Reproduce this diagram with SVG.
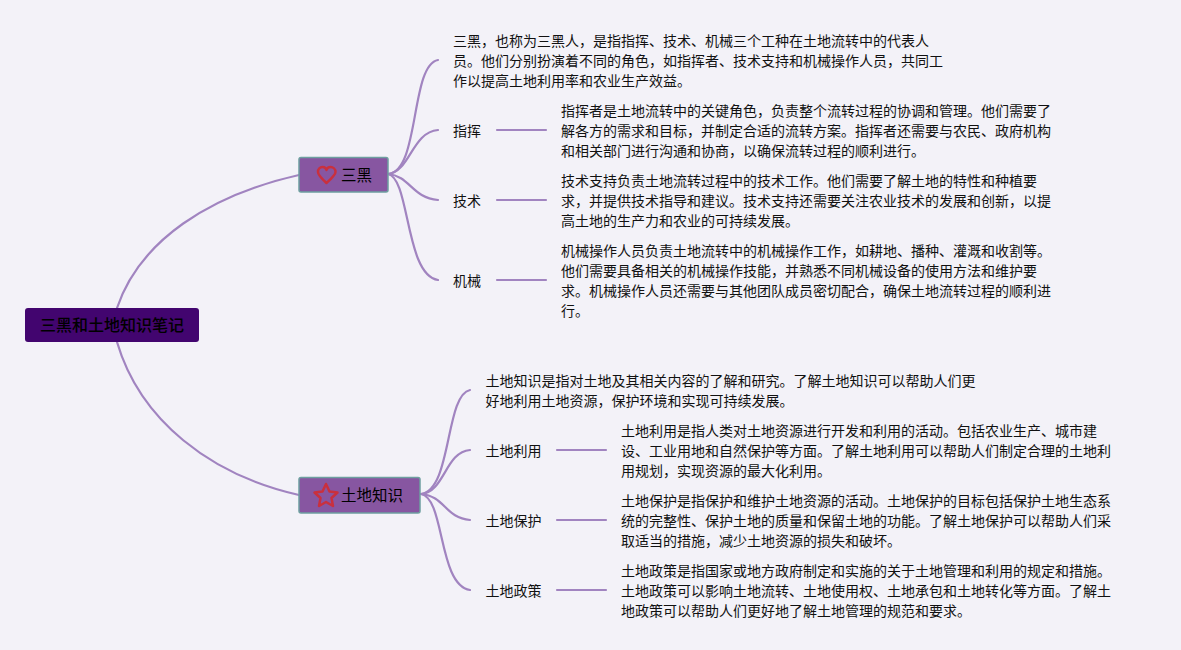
<svg xmlns="http://www.w3.org/2000/svg" width="1181" height="650" viewBox="0 0 1181 650">
<style>
text{font-family:"Noto Sans CJK SC","Noto Sans",sans-serif;font-size:14px;fill:#111}
.c{fill:none;stroke:#a184c0;stroke-width:2.200;stroke-linecap:round}
.sub{fill:#8756a1;stroke:#6e9fa0;stroke-width:1.500}
.ic{fill:none;stroke:#c9303e;stroke-width:2.500;stroke-linejoin:round}
.m{font-size:15.500px;fill:#000}
</style>
<rect width="1181" height="650" fill="#f3f2f8"/>
<g id="connectors">
<path class="c" d="M117 308C140 240 210 195 299 175"/>
<path class="c" d="M117 342C140 420 210 475 299 495"/>
<path class="c" d="M388 174C420 172 410 65 438 60"/>
<path class="c" d="M388 174C410 172 412 132 438 130"/>
<path class="c" d="M388 174C410 176 412 198 438 200"/>
<path class="c" d="M388 174C410 178 405 275 438 280"/>
<path class="c" d="M421 494C452 490 445 395 470 390"/>
<path class="c" d="M421 494C445 492 445 452 470 450"/>
<path class="c" d="M421 494C445 496 445 518 470 520"/>
<path class="c" d="M421 494C445 498 438 585 470 590"/>
<path class="c" d="M497 130H546"/>
<path class="c" d="M497 200H546"/>
<path class="c" d="M497 280H546"/>
<path class="c" d="M557 450H606"/>
<path class="c" d="M557 520H606"/>
<path class="c" d="M557 590H606"/>
</g>
<g id="root"><rect x="25" y="308" width="174" height="34" rx="3" fill="#42056f"/><text x="112" y="331" text-anchor="middle" style="font-size:16px;fill:#000;font-weight:500">三黑和土地知识笔记</text></g>
<g id="sanhei"><rect class="sub" x="299" y="157.500" width="89" height="34.500" rx="2"/><path class="ic" d="M326.500 183C321 178 318 175 318 172C318 169 320 167 322.500 167C324.500 167 326 168 326.500 170C327 168 328.500 167 330.500 167C333 167 335.500 169 335.500 172C335.500 175 332 178 326.500 183Z"/><text class="m" x="341" y="181">三黑</text></g>
<g id="tudi"><rect class="sub" x="299" y="477.500" width="121" height="35.500" rx="2"/><path class="ic" d="M326 484L329.500 491.500L337.500 492.500L331.500 498L333 506L326 502L319 506L320.500 498L314.500 492.500L322.500 491.500Z"/><text class="m" x="341" y="501">土地知识</text></g>
<g id="n1"><text x="453" y="46">三黑，也称为三黑人，是指指挥、技术、机械三个工种在土地流转中的代表人</text><text x="453" y="66">员。他们分别扮演着不同的角色，如指挥者、技术支持和机械操作人员，共同工</text><text x="453" y="86">作以提高土地利用率和农业生产效益。</text></g>
<g id="n2"><text x="453" y="136">指挥</text></g>
<g id="n2d"><text x="561" y="116">指挥者是土地流转中的关键角色，负责整个流转过程的协调和管理。他们需要了</text><text x="561" y="136">解各方的需求和目标，并制定合适的流转方案。指挥者还需要与农民、政府机构</text><text x="561" y="156">和相关部门进行沟通和协商，以确保流转过程的顺利进行。</text></g>
<g id="n3"><text x="453" y="206">技术</text></g>
<g id="n3d"><text x="561" y="186">技术支持负责土地流转过程中的技术工作。他们需要了解土地的特性和种植要</text><text x="561" y="206">求，并提供技术指导和建议。技术支持还需要关注农业技术的发展和创新，以提</text><text x="561" y="226">高土地的生产力和农业的可持续发展。</text></g>
<g id="n4"><text x="453" y="286">机械</text></g>
<g id="n4d"><text x="561" y="256">机械操作人员负责土地流转中的机械操作工作，如耕地、播种、灌溉和收割等。</text><text x="561" y="276">他们需要具备相关的机械操作技能，并熟悉不同机械设备的使用方法和维护要</text><text x="561" y="296">求。机械操作人员还需要与其他团队成员密切配合，确保土地流转过程的顺利进</text><text x="561" y="316">行。</text></g>
<g id="n5"><text x="485.500" y="386">土地知识是指对土地及其相关内容的了解和研究。了解土地知识可以帮助人们更</text><text x="485.500" y="406">好地利用土地资源，保护环境和实现可持续发展。</text></g>
<g id="n6"><text x="485.500" y="456">土地利用</text></g>
<g id="n6d"><text x="621" y="436">土地利用是指人类对土地资源进行开发和利用的活动。包括农业生产、城市建</text><text x="621" y="456">设、工业用地和自然保护等方面。了解土地利用可以帮助人们制定合理的土地利</text><text x="621" y="476">用规划，实现资源的最大化利用。</text></g>
<g id="n7"><text x="485.500" y="526">土地保护</text></g>
<g id="n7d"><text x="621" y="506">土地保护是指保护和维护土地资源的活动。土地保护的目标包括保护土地生态系</text><text x="621" y="526">统的完整性、保护土地的质量和保留土地的功能。了解土地保护可以帮助人们采</text><text x="621" y="546">取适当的措施，减少土地资源的损失和破坏。</text></g>
<g id="n8"><text x="485.500" y="596">土地政策</text></g>
<g id="n8d"><text x="621" y="576">土地政策是指国家或地方政府制定和实施的关于土地管理和利用的规定和措施。</text><text x="621" y="596">土地政策可以影响土地流转、土地使用权、土地承包和土地转化等方面。了解土</text><text x="621" y="616">地政策可以帮助人们更好地了解土地管理的规范和要求。</text></g>
</svg>
